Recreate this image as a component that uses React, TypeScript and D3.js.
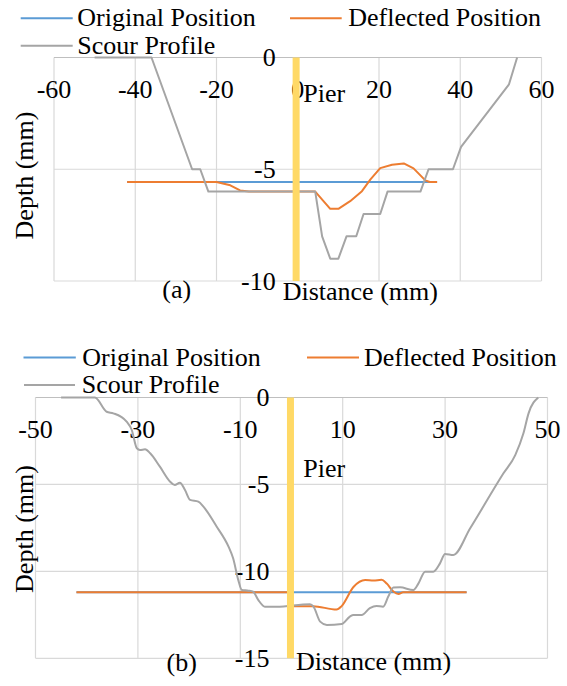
import { useEffect, useRef } from "react";
import * as d3 from "d3";

type Pt = [number, number];

// ---- chart (a) ----
const originalA: Pt[] = [[-42, -5.57], [34.3, -5.57]];
const deflectedA: Pt[] = [
  [-42, -5.57], [-20, -5.57], [-16.6, -5.72], [-14.2, -5.95], [-12, -6.0], [4.3, -6.0],
  [8, -6.77], [10, -6.77], [12.9, -6.43], [15.8, -5.98], [17.9, -5.45], [20.3, -4.95],
  [23.2, -4.8], [26.1, -4.74], [28.5, -4.96], [31.4, -5.5], [32.5, -5.57], [34.3, -5.57],
];
const scourA: Pt[] = [
  [-50, 0], [-36, 0], [-26, -5], [-24, -5], [-22, -6], [4.3, -6], [6, -8], [8, -9], [10, -9],
  [12, -8], [14.4, -8], [16.2, -7], [20.3, -7], [22.1, -6], [30.2, -6], [32.2, -5], [38.2, -5],
  [40.2, -4], [52, -1.2], [54, 0],
];
const pierA: Pt[] = [[-0.4, 0], [-0.4, -10]];
const xTicksA = [-60, -40, -20, 0, 20, 40, 60];
const yTicksA = [0, -5, -10];

// ---- chart (b) ----
const originalB: Pt[] = [[-42, -11.2], [34.2, -11.2]];
const deflectedB: Pt[] = [
  [-42, -11.2], [-0.9, -11.2], [0.5, -12.0], [4.2, -12.0], [8.8, -12.2], [9.8, -12.0],
  [12.1, -10.9], [14.4, -10.5], [16, -10.53], [17.6, -10.48], [18.6, -10.7], [19.9, -11.16],
  [20.9, -11.3], [21.8, -11.2], [34.2, -11.2],
];
const scourB: Pt[] = [
  [-45, 0], [-38.4, 0], [-36.1, -0.82], [-34.8, -0.91], [-32.2, -1.39], [-31.2, -1.87],
  [-30.2, -2.92], [-29.6, -3.02], [-28.6, -2.98], [-27.6, -3.21], [-25.7, -3.98], [-23.7, -4.84],
  [-22.8, -5.03], [-21.8, -4.9], [-20.8, -5.32], [-19.8, -5.89], [-18.2, -5.99], [-17.2, -6.28],
  [-14.6, -7.43], [-12.3, -8.58], [-11.4, -9.25], [-10.4, -10.49], [-9.7, -11.07], [-8.4, -11.11],
  [-7.5, -11.17], [-6.5, -11.64], [-5.2, -12.03], [-2.9, -12.03], [3.6, -11.89], [4.3, -12.03],
  [5.6, -12.89], [6.9, -13.08], [9.8, -13.03], [11.4, -12.6], [12.1, -12.51], [13.7, -12.51],
  [15.3, -12.12], [16.6, -11.99], [17.9, -12.03], [18.9, -11.45], [19.9, -10.93], [21.2, -10.92],
  [23.8, -11.07], [24.8, -10.69], [26.1, -10.02], [27.7, -10.02], [29, -9.54], [30, -9.0],
  [31.6, -9.06], [34.9, -7.52], [41.4, -4.36], [43.7, -3.31], [45.3, -2.06], [46.3, -0.91],
  [48.2, 0],
];
const pierB: Pt[] = [[-0.2, 0], [-0.2, -15]];
const xTicksB = [-50, -30, -10, 10, 30, 50];
const yTicksB = [0, -5, -10, -15];

const seriesNames = ["Original Position", "Deflected Position", "Scour Profile"];
const colors = { original: "#5B9BD5", deflected: "#ED7D31", scour: "#A5A5A5", pier: "#FFD966" };
const FONT = "'Liberation Serif', 'Times New Roman', serif";

const drawChart = (svg: any, c: any) => {
  const x = d3.scaleLinear().domain(c.xDomain).range([c.left, c.right]);
  const y = d3.scaleLinear().domain(c.yDomain).range([c.top, c.bottom]);
  const g = svg.append("g").attr("font-family", FONT).attr("font-size", 26);

  // legend
  const leg = [
    { name: seriesNames[0], color: colors.original, ...c.legend[0] },
    { name: seriesNames[1], color: colors.deflected, ...c.legend[1] },
    { name: seriesNames[2], color: colors.scour, ...c.legend[2] },
  ];
  leg.forEach((l) => {
    g.append("line").attr("x1", l.x1).attr("x2", l.x2).attr("y1", l.y).attr("y2", l.y)
      .attr("stroke", l.color).attr("stroke-width", 2);
    g.append("text").attr("x", l.tx).attr("y", l.y + 8).text(l.name);
  });

  // gridlines
  g.selectAll(".vgrid").data(c.xTicks).enter().append("line")
    .attr("x1", (d: number) => x(d)).attr("x2", (d: number) => x(d))
    .attr("y1", c.top).attr("y2", c.bottom)
    .attr("stroke", "#d9d9d9").attr("stroke-width", 1.2);
  g.selectAll(".hgrid").data(c.yTicks).enter().append("line")
    .attr("x1", c.left).attr("x2", c.right)
    .attr("y1", (d: number) => y(d)).attr("y2", (d: number) => y(d))
    .attr("stroke", (d: number) => (d === 0 ? "#bfbfbf" : "#d9d9d9")).attr("stroke-width", 1.2);

  // tick labels
  g.selectAll(".xt").data(c.xTicks).enter().append("text")
    .attr("x", (d: number) => x(d)).attr("y", c.top + 40.5)
    .attr("text-anchor", "middle").text((d: number) => d);
  g.selectAll(".yt").data(c.yTicks).enter().append("text")
    .attr("x", x(0) - 22).attr("y", (d: number) => y(d)).attr("dy", "0.33em")
    .attr("text-anchor", "end").text((d: number) => d);

  // excel-like smoothing for (b), straight segments for (a)
  const curve = c.smooth ? d3.curveMonotoneX : d3.curveLinear;
  const line = d3.line<Pt>().x((d) => x(d[0])).y((d) => y(d[1])).curve(curve);
  const series = [
    { data: c.original, color: colors.original },
    { data: c.deflected, color: colors.deflected },
    { data: c.scour, color: colors.scour },
  ];
  series.forEach((s) => {
    g.append("path").attr("d", line(s.data)).attr("fill", "none")
      .attr("stroke", s.color).attr("stroke-width", 2).attr("stroke-linejoin", "round");
  });

  // pier
  g.append("path").attr("d", d3.line<Pt>().x((d) => x(d[0])).y((d) => y(d[1]))(c.pier))
    .attr("stroke", colors.pier).attr("stroke-width", 7).attr("fill", "none");

  g.append("text").attr("x", c.pierLabel[0]).attr("y", c.pierLabel[1]).text("Pier");
  g.append("text").attr("x", c.xTitle[0]).attr("y", c.xTitle[1]).text("Distance (mm)");
  g.append("text").attr("x", c.tag[0]).attr("y", c.tag[1]).attr("text-anchor", "middle").text(c.tagText);
  g.append("text")
    .attr("transform", `translate(${c.yTitle[0]}, ${c.yTitle[1]}) rotate(-90)`)
    .attr("text-anchor", "middle").text("Depth (mm)");
};

const App = () => {
  const ref = useRef<SVGSVGElement | null>(null);

  useEffect(() => {
    const svg = d3.select(ref.current);
    svg.selectAll("*").remove();

    drawChart(svg, {
      xDomain: [-60, 60], yDomain: [0, -10],
      left: 54, right: 541.5, top: 57.5, bottom: 281,
      xTicks: xTicksA, yTicks: yTicksA,
      original: originalA, deflected: deflectedA, scour: scourA, pier: pierA,
      smooth: false,
      legend: [
        { x1: 20.7, x2: 72.7, y: 18.3, tx: 77.3 },
        { x1: 290, x2: 341.7, y: 18.3, tx: 348.3 },
        { x1: 20.7, x2: 72.7, y: 45.7, tx: 77.3 },
      ],
      pierLabel: [303.3, 101.7], xTitle: [282.7, 300], tag: [176.7, 298], tagText: "(a)",
      yTitle: [33, 175.5],
    });

    drawChart(svg, {
      xDomain: [-50, 50], yDomain: [0, -15],
      left: 35.5, right: 547.5, top: 397.5, bottom: 658.3,
      xTicks: xTicksB, yTicks: yTicksB,
      original: originalB, deflected: deflectedB, scour: scourB, pier: pierB,
      smooth: true,
      legend: [
        { x1: 23.5, x2: 75.8, y: 357.5, tx: 82.3 },
        { x1: 307, x2: 359, y: 357.5, tx: 364 },
        { x1: 24, x2: 75, y: 385, tx: 81.7 },
      ],
      pierLabel: [303.3, 476.7], xTitle: [296, 670], tag: [181.7, 671], tagText: "(b)",
      yTitle: [33, 529],
    });
  }, []);

  return (
    <svg
      ref={ref}
      width={567}
      height={686}
      style={{ position: "absolute", left: 0, top: 0, background: "#fff" }}
    />
  );
};

export default App;
